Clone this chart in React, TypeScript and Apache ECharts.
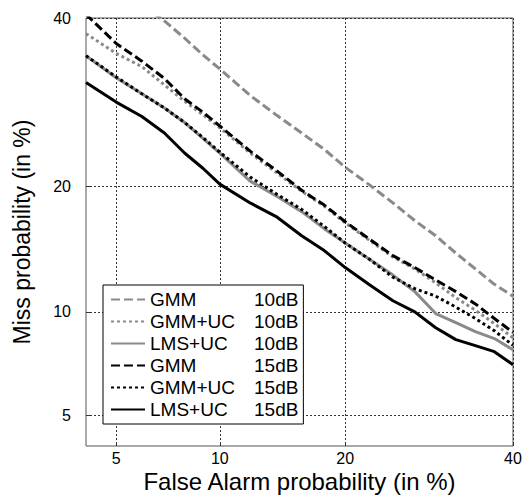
import React, { useEffect, useRef } from 'react';
import * as echarts from 'echarts';

// Tick labels (percent) on both probit-scaled axes
const tickLabels = [5, 10, 20, 40];
const axisMinPct = 4;
const axisMaxPct = 40;

const seriesNames = ['GMM 10dB', 'GMM+UC 10dB', 'LMS+UC 10dB', 'GMM 15dB', 'GMM+UC 15dB', 'LMS+UC 15dB'];

// False alarm probabilities (%) sampled along the curves
const falseAlarm = [4, 5, 6, 7, 8, 9, 10, 12, 14, 16, 18, 20, 22.5, 25, 27.5, 30, 32.5, 35, 37.5, 40];
const gmm10FalseAlarm = [6.5, 7, 8, 9, 10, 12, 14, 16, 18, 20, 22.5, 25, 27.5, 30, 32.5, 35, 37.5, 40];

// Miss probabilities (%)
const gmm10Miss = [40.7, 39.6, 37.3, 35.1, 33.3, 30.0, 27.6, 25.6, 23.8, 21.9, 20.1, 18.4, 16.8, 15.5, 14.1, 12.9, 11.8, 11.0];
const gmmUc10Miss = [37.9, 35.3, 33.6, 31.3, 29.3, 27.7, 26.2, 23.4, 21.3, 19.5, 18.1, 16.6, 15.1, 13.8, 12.9, 11.9, 10.9, 10.1, 9.3, 8.5];
const lmsUc10Miss = [35.0, 32.2, 30.2, 28.5, 26.8, 25.0, 23.4, 20.5, 19.0, 17.6, 16.1, 14.9, 13.6, 12.45, 11.3, 9.9, 9.36, 8.84, 8.46, 7.87];
const gmm15Miss = [40.5, 36.6, 34.3, 32.1, 29.6, 28.0, 26.4, 23.6, 21.5, 19.6, 18.2, 16.7, 15.2, 13.9, 13.0, 12.1, 11.3, 10.5, 9.6, 8.8];
const gmmUc15Miss = [35.0, 32.3, 30.2, 28.5, 26.8, 25.1, 23.5, 20.9, 19.2, 17.8, 16.3, 14.9, 13.6, 12.3, 11.5, 11.0, 10.3, 9.6, 8.89, 8.1];
const lmsUc15Miss = [31.6, 29.2, 27.5, 25.6, 23.4, 21.8, 20.2, 18.4, 17.1, 15.5, 14.3, 13.0, 11.75, 10.7, 10.0, 9.06, 8.4, 8.08, 7.77, 7.13];

// Inverse standard normal CDF (Acklam)
function probit(p: number): number {
  const a = [-3.969683028665376e1, 2.209460984245205e2, -2.759285104469687e2, 1.38357751867269e2, -3.066479806614716e1, 2.506628277459239];
  const b = [-5.447609879822406e1, 1.615858368580409e2, -1.556989798598866e2, 6.680131188771972e1, -1.328068155288572e1];
  const c = [-7.784894002430293e-3, -3.223964580411365e-1, -2.400758277161838, -2.549732539343734, 4.374664141464968, 2.938163982698783];
  const d = [7.784695709041462e-3, 3.224671290700398e-1, 2.445134137142996, 3.754408661907416];
  const plow = 0.02425;
  const phigh = 1 - plow;
  let q: number, r: number;
  if (p < plow) {
    q = Math.sqrt(-2 * Math.log(p));
    return (((((c[0] * q + c[1]) * q + c[2]) * q + c[3]) * q + c[4]) * q + c[5]) / ((((d[0] * q + d[1]) * q + d[2]) * q + d[3]) * q + 1);
  }
  if (p <= phigh) {
    q = p - 0.5;
    r = q * q;
    return ((((((a[0] * r + a[1]) * r + a[2]) * r + a[3]) * r + a[4]) * r + a[5]) * q) / (((((b[0] * r + b[1]) * r + b[2]) * r + b[3]) * r + b[4]) * r + 1);
  }
  q = Math.sqrt(-2 * Math.log(1 - p));
  return -(((((c[0] * q + c[1]) * q + c[2]) * q + c[3]) * q + c[4]) * q + c[5]) / ((((d[0] * q + d[1]) * q + d[2]) * q + d[3]) * q + 1);
}

const pr = (pct: number) => probit(pct / 100);

const FONT = '"Liberation Sans", Arial, Helvetica, sans-serif';
const GRAY = '#8a8a8a';
const BLACK = '#000000';

export default function App() {
  const ref = useRef<HTMLDivElement>(null);

  useEffect(() => {
    if (!ref.current) return;
    const chart = echarts.init(ref.current, undefined, { renderer: 'svg' });
    const tickVals = tickLabels.map(pr);
    const fmt = (v: number) => {
      const i = tickVals.findIndex((t) => Math.abs(t - v) < 1e-7);
      return i >= 0 ? String(tickLabels[i]) : '';
    };
    const mk = (xs: number[], ys: number[]) => xs.map((x, i) => [pr(x), pr(ys[i])]);

    const styles = [
      { color: GRAY, type: [9, 4] as any, data: mk(gmm10FalseAlarm, gmm10Miss) },
      { color: GRAY, type: [3, 3] as any, data: mk(falseAlarm, gmmUc10Miss) },
      { color: GRAY, type: 'solid' as any, data: mk(falseAlarm, lmsUc10Miss) },
      { color: BLACK, type: [9, 4] as any, data: mk(falseAlarm, gmm15Miss) },
      { color: BLACK, type: [3, 3] as any, data: mk(falseAlarm, gmmUc15Miss) },
      { color: BLACK, type: 'solid' as any, data: mk(falseAlarm, lmsUc15Miss) },
    ];

    const axisCommon = (name: string, nameSize: number, nameGap: number, labelMargin: number) => ({
      type: 'value' as const,
      min: pr(axisMinPct),
      max: pr(axisMaxPct),
      name,
      nameLocation: 'middle' as const,
      nameGap,
      nameMoveOverlap: false,
      nameTextStyle: { fontFamily: FONT, fontSize: nameSize, lineHeight: nameSize, color: '#000' },
      axisLine: { show: false },
      axisTick: { show: true, inside: true, length: 4, customValues: tickVals, lineStyle: { color: '#333' } },
      axisLabel: { customValues: tickVals, formatter: fmt, fontFamily: FONT, fontSize: 16, lineHeight: 16, color: '#000', margin: labelMargin },
      splitLine: { show: true, lineStyle: { color: '#333', type: [2, 2] as any, width: 1 } },
    });

    chart.setOption({
      animation: false,
      backgroundColor: '#fff',
      grid: {
        left: 86,
        right: 10,
        top: 18,
        bottom: 49,
        show: true,
        borderColor: '#555',
        borderWidth: 1,
        containLabel: false,
        outerBoundsMode: 'none',
      },
      xAxis: axisCommon('False Alarm probability (in %)', 24, 23, 4),
      yAxis: axisCommon('Miss probability (in %)', 23, 53, 15),
      legend: {
        orient: 'vertical',
        left: 103,
        top: 285,
        padding: [5, 5, 5, 7],
        itemGap: 3,
        itemWidth: 34,
        itemHeight: 14,
        backgroundColor: '#fff',
        borderColor: '#000',
        borderWidth: 1,
        borderRadius: 0,
        selectedMode: false,
        itemStyle: { opacity: 0 },
        data: seriesNames,
        formatter: (name: string) => {
          const parts = name.split(' ');
          return `{a|${parts[0]}}{b|${parts[1]}}`;
        },
        textStyle: {
          fontFamily: FONT,
          fontSize: 19,
          color: '#000',
          rich: {
            a: { width: 104, fontFamily: FONT, fontSize: 19, lineHeight: 20, color: '#000' },
            b: { fontFamily: FONT, fontSize: 19, lineHeight: 20, color: '#000' },
          },
        },
      },
      series: styles.map((s, i) => ({
        name: seriesNames[i],
        type: 'line',
        data: s.data,
        symbol: 'none',
        smooth: false,
        clip: true,
        color: s.color,
        lineStyle: { color: s.color, width: 3, type: s.type },
        z: 2 + i,
      })),
    });
    return () => chart.dispose();
  }, []);

  return <div ref={ref} style={{ position: 'fixed', left: 0, top: 0, width: 523, height: 495 }} />;
}
